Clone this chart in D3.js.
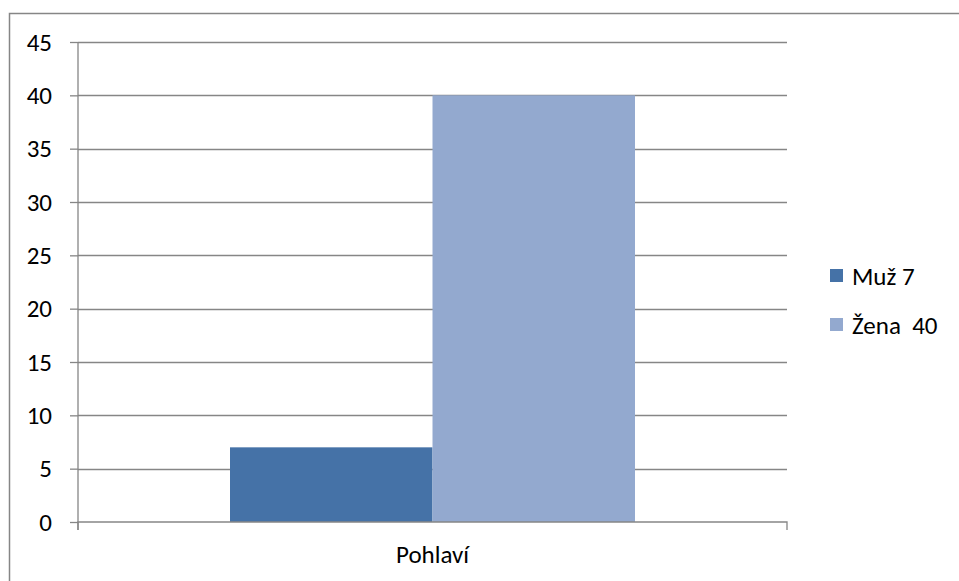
<!DOCTYPE html>
<html>
<head>
<meta charset="utf-8">
<script src="https://cdn.jsdelivr.net/npm/d3@7"></script>
<style>
  html, body { margin: 0; padding: 0; background: #fff; }
  svg { display: block; }
  text { font-family: Carlito, Calibri, "Open Sans", "Noto Sans", sans-serif; font-size: 25px; fill: #000; }
</style>
</head>
<body>
<script>
const categories = ["Pohlaví"];
const seriesNames = ["Muž 7", "Žena  40"];
const seriesValues = [7, 40];
const seriesColors = ["#4572A7", "#93A9CF"];
const yTicks = [0, 5, 10, 15, 20, 25, 30, 35, 40, 45];

(function () {
const W = 959, H = 581;
const svg = d3.select("body").append("svg").attr("width", W).attr("height", H);
const FONT = 'Carlito, Calibri, "Open Sans", "Noto Sans", sans-serif';
const FS = 25;

// outer frame (extends past right/bottom edges)
svg.append("rect").attr("x", 9.5).attr("y", 13.5).attr("width", 960).attr("height", 600)
  .attr("fill", "none").attr("stroke", "#868686").attr("stroke-width", 1.5);

const pLeft = 78, pRight = 787, pTop = 42, pBottom = 522;

const y = d3.scaleLinear().domain([0, 45]).range([pBottom, pTop]);
const x0 = d3.scaleBand().domain(categories).range([pLeft, pRight]).paddingInner(0).paddingOuter(0);
const x1 = d3.scaleBand().domain(d3.range(seriesValues.length)).range([152, x0.bandwidth() - 152]);

// gridlines
svg.append("g").selectAll("line").data(yTicks.filter(d => d > 0)).join("line")
  .attr("x1", pLeft).attr("x2", pRight)
  .attr("y1", d => Math.round(y(d)) + 0.5).attr("y2", d => Math.round(y(d)) + 0.5)
  .attr("stroke", "#868686").attr("stroke-width", 1.3);

// bars
svg.append("g").selectAll("rect").data(seriesValues).join("rect")
  .attr("x", (d, i) => x0(categories[0]) + x1(i))
  .attr("width", x1.bandwidth())
  .attr("y", d => y(d))
  .attr("height", d => y(0) - y(d))
  .attr("fill", (d, i) => seriesColors[i]);

// y axis
const yAxis = d3.axisLeft(y).tickValues(yTicks).tickSize(8).tickPadding(18);
const gy = svg.append("g").attr("transform", `translate(${pLeft},0)`).call(yAxis);
gy.select(".domain").attr("stroke", "#868686").attr("stroke-width", 1.3).attr("d", `M0,${pTop}V${pBottom + 8}`);
gy.selectAll(".tick line").attr("stroke", "#868686").attr("stroke-width", 1.3);
gy.selectAll(".tick text").attr("font-size", FS).attr("fill", "#000").attr("font-family", FONT);

// x axis
const xAxis = d3.axisBottom(x0).tickSize(0).tickPadding(0);
const gx = svg.append("g").attr("transform", `translate(0,${pBottom})`).call(xAxis);
gx.select(".domain").attr("stroke", "#868686").attr("stroke-width", 1.3)
  .attr("d", `M${pLeft},8V0H${pRight}V8`);
gx.selectAll(".tick text").attr("font-size", FS).attr("fill", "#000").attr("font-family", FONT)
  .attr("y", 41).attr("dy", 0);

// legend
const lg = svg.append("g");
seriesNames.forEach((name, i) => {
  const yy = 269 + i * 49;
  lg.append("rect").attr("x", 830).attr("y", yy).attr("width", 13).attr("height", 13).attr("fill", seriesColors[i]);
  lg.append("text").attr("x", 852).attr("y", yy + 16).attr("font-family", FONT).attr("font-size", FS)
    .style("white-space", "pre").text(name);
});
})();
</script>
</body>
</html>
